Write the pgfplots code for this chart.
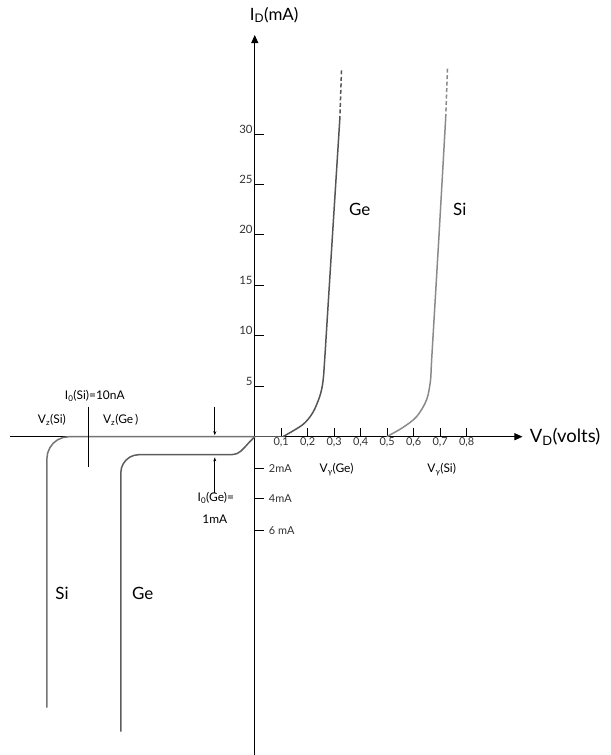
\documentclass[border=0pt]{standalone}
\usepackage{fontspec}
\setmainfont{Lato}
\usepackage{pgfplots}
\pgfplotsset{compat=1.18}
\usetikzlibrary{arrows.meta}
\definecolor{gecol}{HTML}{555555}
\definecolor{sicol}{HTML}{8A8A8A}
\definecolor{revcol}{HTML}{747474}
\begin{document}
\begin{tikzpicture}
\begin{axis}[
  x=265bp, y=10.1bp,
  xmin=-0.925, xmax=1.011, ymin=-31.49, ymax=39.8,
  axis lines=middle,
  axis line style={line width=0.9pt, black},
  x axis line style={-{Triangle[length=8bp,width=7bp]}},
  y axis line style={-{Triangle[length=8bp,width=7bp]}},
  clip=false,
  xtick={0.1,0.2,0.3,0.4,0.5,0.6,0.7,0.8},
  xticklabels={0{,}1,0{,}2,0{,}3,0{,}4,0{,}5,0{,}6,0{,}7,0{,}8},
  ytick={5,10,15,20,25,30},
  tick align=inside,
  major tick length=9bp,
  tick style={black, line width=0.8pt},
  /pgf/number format/assume math mode=true,
  xticklabel style={font=\fontsize{11}{13}\selectfont, inner sep=1bp, text=black!80},
  yticklabel style={font=\fontsize{11.5}{13}\selectfont, yshift=5bp, inner sep=2bp, text=black!80},
  extra y ticks={-3.17,-6.14,-9.3},
  extra y tick labels={2mA,4mA,6 mA},
  extra y tick style={yticklabel style={font=\fontsize{11}{13}\selectfont, anchor=west, xshift=12bp, yshift=-5bp}},
]
% Ge forward
\addplot[gecol, line width=1.5bp] coordinates {(0,0)(0.106,0)};
\addplot[gecol, line width=1.5bp, smooth, tension=0.5] coordinates {(0.106,0)(0.181,1.19)(0.219,2.38)(0.245,3.96)(0.257,5.35)(0.264,7.62)(0.29,18.5)(0.321,31.39)};
\addplot[gecol, line width=1.5bp, dash pattern=on 4bp off 2.5bp] coordinates {(0.321,31.39)(0.328,36.53)};
% Si forward
\addplot[sicol, line width=1.5bp, smooth, tension=0.5] coordinates {(0.498,0)(0.558,0.89)(0.611,1.98)(0.649,3.66)(0.664,5.64)(0.668,7.62)(0.695,19.6)(0.721,31.58)};
\addplot[sicol, line width=1.5bp, dash pattern=on 4bp off 2.5bp] coordinates {(0.721,31.58)(0.728,36.53)};
% Si reverse
\addplot[revcol, line width=1.5bp, line join=round] coordinates {(0,0)(-0.7019,0)(-0.7234,-0.074)(-0.7434,-0.287)(-0.7608,-0.634)(-0.7736,-1.089)(-0.7821,-1.614)(-0.7849,-2.178)(-0.7849,-26.83)};
% Ge reverse
\addplot[revcol!80!black, line width=1.5bp, line join=round] coordinates {(0,0)(-0.0189,-0.495)(-0.0377,-1.040)(-0.0528,-1.436)(-0.0679,-1.683)(-0.0868,-1.782)(-0.4377,-1.782)(-0.4555,-1.842)(-0.4717,-2.020)(-0.4857,-2.307)(-0.4966,-2.673)(-0.5034,-3.099)(-0.5057,-3.564)(-0.5057,-29.21)};
% markers
\draw[black, line width=0.8pt] (axis cs:-0.630,2.97) -- (axis cs:-0.630,-2.97);
\draw[black, line width=0.8pt, -{Stealth[length=4bp,width=3bp]}] (axis cs:-0.151,2.97) -- (axis cs:-0.151,0.15);
\draw[black, line width=0.8pt, -{Stealth[length=4bp,width=3bp]}] (axis cs:-0.151,-5.6) -- (axis cs:-0.151,-2.05);
% texts
\node[font=\fontsize{12}{14}\selectfont] at (axis cs:-0.604,4.06) {I\textsubscript{0}(Si)=10nA};
\node[font=\fontsize{12}{14}\selectfont] at (axis cs:-0.766,1.68) {V\textsubscript{z}(Si)};
\node[font=\fontsize{12}{14}\selectfont] at (axis cs:-0.506,1.68) {V\textsubscript{z}(Ge\,)};
\node[font=\fontsize{12}{14}\selectfont] at (axis cs:-0.147,-6.04) {I\textsubscript{0}(Ge)=};
\node[font=\fontsize{12}{14}\selectfont] at (axis cs:-0.151,-8.22) {1mA};
\node[font=\fontsize{12}{14}\selectfont] at (axis cs:0.309,-3.27) {V\textsubscript{γ}(Ge)};
\node[font=\fontsize{12}{14}\selectfont] at (axis cs:0.706,-3.27) {V\textsubscript{γ}(Si)};
\node[font=\fontsize{17}{20}\selectfont] at (axis cs:0.396,22.48) {Ge};
\node[font=\fontsize{17}{20}\selectfont] at (axis cs:0.774,22.48) {Si};
\node[font=\fontsize{17}{20}\selectfont] at (axis cs:-0.728,-15.54) {Si};
\node[font=\fontsize{17}{20}\selectfont] at (axis cs:-0.423,-15.54) {Ge};
\node[font=\fontsize{18.5}{21}\selectfont, anchor=west, inner sep=0pt] at (axis cs:1.038,0) {V\textsubscript{D}(volts)};
\node[font=\fontsize{17}{20}\selectfont, anchor=west, inner sep=0pt] at (axis cs:-0.019,41.8) {I\textsubscript{D}(mA)};
\path (axis cs:-0.962,-31.49) rectangle (axis cs:1.343,43.27);
\end{axis}
\end{tikzpicture}
\end{document}
